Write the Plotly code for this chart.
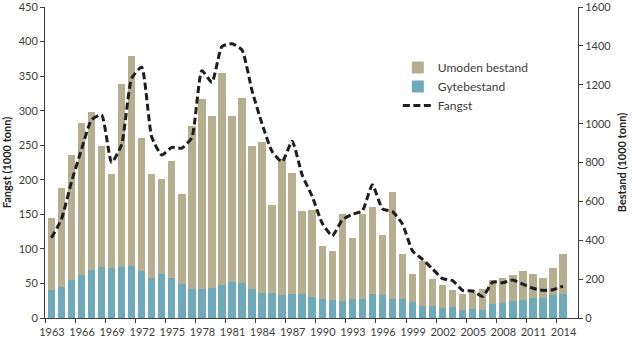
import plotly.graph_objects as go

years = list(range(1963, 2015))

# Gytebestand (1000 tonn)
gytebestand = [146, 160, 194, 220, 245, 260, 256, 263, 270, 240,
               206, 224, 206, 174, 149, 149, 156, 171, 185, 178,
               149, 130, 130, 117, 121, 121, 107, 96, 91, 85,
               96, 100, 121, 117, 100, 100, 82, 64, 60, 52,
               55, 43, 46, 39, 71, 75, 85, 91, 103, 103,
               117, 121]

# Umoden bestand (1000 tonn)
umoden = [370, 508, 645, 786, 814, 626, 487, 939, 1077, 684,
          537, 489, 600, 466, 839, 978, 884, 1088, 857, 956,
          736, 777, 453, 700, 626, 430, 448, 274, 254, 452,
          316, 434, 450, 308, 548, 231, 144, 228, 139, 116,
          87, 78, 87, 108, 124, 132, 135, 149, 123, 103,
          142, 208]

# Fangst (1000 tonn)
fangst = [116, 143, 197, 244, 287, 294, 225, 251, 347, 363,
          262, 236, 247, 246, 261, 358, 341, 393, 397, 388,
          329, 281, 241, 226, 256, 207, 176, 137, 119, 142,
          150, 155, 193, 158, 154, 136, 97, 85, 71, 57,
          54, 40, 39, 31, 52, 51, 55, 49, 43, 40,
          41, 46]

tick_years = list(range(1963, 2015, 3))
tick_labels = [str(y) for y in tick_years]
fangst_ticks = list(range(0, 451, 50))
bestand_ticks = list(range(0, 1601, 200))

C_UMODEN = "#b5ae8f"
C_GYTE = "#6eaab9"
AX = "#3c3c3c"
FONT = "Lato"

fig = go.Figure()
fig.add_trace(go.Bar(x=years, y=gytebestand, name="Gytebestand",
                     marker=dict(color=C_GYTE, line=dict(width=0)),
                     width=0.74, yaxis="y", legendrank=2))
fig.add_trace(go.Bar(x=years, y=umoden, name="Umoden bestand",
                     marker=dict(color=C_UMODEN, line=dict(width=0)),
                     width=0.74, yaxis="y", legendrank=1))
fig.add_trace(go.Scatter(x=years, y=fangst, name="Fangst", mode="lines",
                         line=dict(color="#1e1e1e", width=3, dash="7px,3.5px",
                                   shape="spline", smoothing=0.5),
                         yaxis="y2", legendrank=3))

fig.update_layout(
    width=633, height=339,
    margin=dict(l=45, r=55, t=7, b=21, autoexpand=False),
    paper_bgcolor="white", plot_bgcolor="white",
    barmode="stack", bargap=0,
    font=dict(family=FONT, size=11, color=AX),
    showlegend=True,
    legend=dict(x=0.662, y=0.852, xanchor="left", yanchor="top",
                traceorder="normal",
                bgcolor="rgba(0,0,0,0)", font=dict(size=12, color=AX),
                itemwidth=30, tracegroupgap=0),
    xaxis=dict(range=[1962.36, 2015.5], showgrid=False, zeroline=False,
               automargin=False,
               tickmode="array",
               tickvals=[y - 0.64 for y in tick_years],
               ticktext=tick_labels, ticklabelshift=7,
               ticks="outside", ticklen=4, tickcolor=AX,
               showline=True, linecolor=AX, linewidth=1,
               tickfont=dict(size=11, color=AX)),
    yaxis=dict(side="right", range=[0, 1600.5], automargin=False,
               tickmode="array", tickvals=bestand_ticks,
               ticklabeloverflow="allow",
               showgrid=False, zeroline=False,
               ticks="outside", ticklen=4, tickcolor=AX,
               showline=True, linecolor=AX, linewidth=1,
               title=dict(text="<b>Bestand (1000 tonn)</b>", standoff=7,
                          font=dict(size=11, color="#222")),
               tickfont=dict(size=11, color=AX)),
    yaxis2=dict(side="left", overlaying="y", range=[0, 450.14],
                automargin=False,
                tickmode="array", tickvals=fangst_ticks,
                ticklabeloverflow="allow",
                showgrid=False, zeroline=False,
                ticks="outside", ticklen=4, tickcolor=AX,
                showline=True, linecolor=AX, linewidth=1,
                title=dict(text="<b>Fangst (1000 tonn)</b>", standoff=6,
                           font=dict(size=11, color="#222")),
                tickfont=dict(size=11, color=AX)),
)

fig.write_html("out.html")
